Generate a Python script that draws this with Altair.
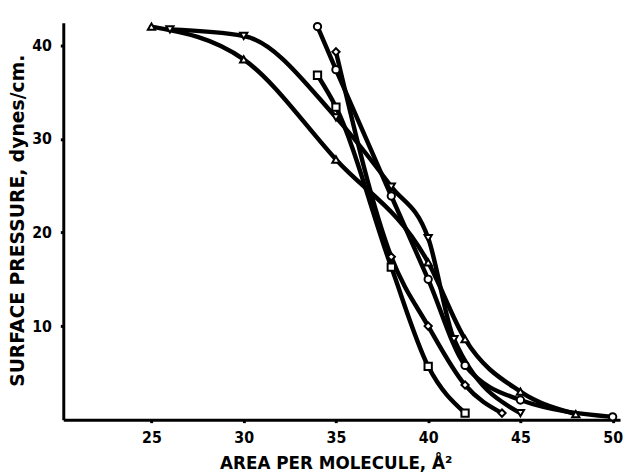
import altair as alt
import pandas as pd

# Series (area per molecule, surface pressure)
tri_up_x = [25, 30, 35, 40, 42, 45, 48]
tri_up_y = [42.0, 38.5, 27.8, 16.8, 8.6, 3.0, 0.6]

tri_down_x = [26, 30, 35, 38, 40, 41.4, 45]
tri_down_y = [41.7, 41.0, 32.3, 24.9, 19.4, 8.6, 0.7]

circle_x = [34, 35, 38, 40, 42, 45, 50]
circle_y = [42.0, 37.4, 23.9, 15.0, 5.8, 2.1, 0.3]

diamond_x = [35, 38, 40, 42, 44]
diamond_y = [39.3, 17.4, 10.0, 3.7, 0.7]

square_x = [34, 35, 38, 40, 42]
square_y = [36.8, 33.4, 16.3, 5.7, 0.7]

series_names = ["triangle-up", "triangle-down", "circle", "diamond", "square"]
x_ticks = [25, 30, 35, 40, 45, 50]
y_ticks = [10, 20, 30, 40]

rows = []
for name, xs, ys in [
    ("triangle-up", tri_up_x, tri_up_y),
    ("triangle-down", tri_down_x, tri_down_y),
    ("circle", circle_x, circle_y),
    ("diamond", diamond_x, diamond_y),
    ("square", square_x, square_y),
]:
    for xv, yv in zip(xs, ys):
        rows.append({"series": name, "area": xv, "pressure": yv})
df = pd.DataFrame(rows)

LABEL_FONT = "Liberation Sans Narrow, DejaVu Sans Condensed, Liberation Sans, Arial"
TITLE_FONT = "DejaVu Sans, Verdana, Arial"

x_enc = alt.X(
    "area:Q",
    scale=alt.Scale(domain=[20.22, 50.4], nice=False, zero=False),
    axis=alt.Axis(
        values=x_ticks,
        title="AREA PER MOLECULE, Å²",
        titleX=276,
        titleY=44,
        titleBaseline="middle",
        titleAlign="center",
        titleFontSize=17,
        labelPadding=7,
    ),
)
y_enc = alt.Y(
    "pressure:Q",
    scale=alt.Scale(domain=[0, 42.4], nice=False, zero=True),
    axis=alt.Axis(
        values=y_ticks,
        title="SURFACE PRESSURE, dynes/cm.",
        titleX=-46,
        titleY=200,
        titleAngle=270,
        titleAlign="center",
        titleBaseline="middle",
        titleFontSize=19,
        labelPadding=9,
    ),
)

lines = alt.Chart(df).mark_line(
    interpolate="monotone", color="black", strokeWidth=4.5, strokeCap="round"
).encode(x=x_enc, y=y_enc, detail="series:N")

points = alt.Chart(df).mark_point(
    filled=True, fill="white", stroke="black", strokeWidth=2, size=55, opacity=1
).encode(
    x="area:Q",
    y="pressure:Q",
    shape=alt.Shape(
        "series:N",
        scale=alt.Scale(domain=series_names, range=series_names),
        legend=None,
    ),
)

chart = (
    alt.layer(lines, points)
    .properties(
        width=564,
        height=402,
        padding={"left": 56, "top": 12, "right": 3, "bottom": 52},
        autosize=alt.AutoSizeParams(type="none"),
        background="white",
    )
    .configure_view(stroke=None)
    .configure_axis(
        grid=False,
        domainColor="black",
        domainWidth=3,
        tickColor="black",
        tickSize=3,
        tickWidth=3,
        labelFont=LABEL_FONT,
        labelFontSize=16,
        labelFontWeight="bold",
        labelColor="black",
        titleFont=TITLE_FONT,
        titleFontWeight="bold",
        titleColor="black",
    )
)

chart.save("out.html", embed_options={"renderer": "svg", "actions": False})
